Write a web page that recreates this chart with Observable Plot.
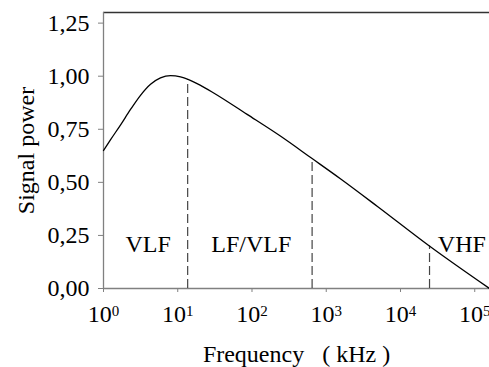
<!DOCTYPE html>
<html><head><meta charset="utf-8">
<script src="https://cdn.jsdelivr.net/npm/d3@7"></script>
<script src="https://cdn.jsdelivr.net/npm/@observablehq/plot@0.6"></script>
<style>
body{margin:0;background:#fff}
#chart svg, #chart svg text{font-family:"Liberation Serif","Times New Roman",serif !important}
</style>
</head><body><div id="chart"></div>
<script>
// Curve samples: frequency (kHz) and signal power
const freqKHz = [1, 1.24, 1.7, 2.3, 3.15, 4.3, 5.85, 8, 10.9, 14, 20, 30.5, 86, 241, 645, 1550, 5000, 24500, 158000];
const power   = [0.65, 0.70, 0.771, 0.842, 0.91, 0.962, 0.992, 1.003, 0.997, 0.984, 0.958, 0.921, 0.82, 0.718, 0.612, 0.517, 0.384, 0.2, 0.0];
// Band boundaries (dashed lines)
const boundaryFreq  = [13.6, 645, 24600];
const boundaryPower = [0.985, 0.612, 0.2];
// Band labels
const bandLabels = ["VLF", "LF/VLF", "VHF"];
const bandLabelFreq = [4, 98, 67000];
const bandLabelPower = [0.17, 0.17, 0.17];
// Axes
const xTicks = [1, 10, 100, 1000, 10000, 100000];
const xTickExp = ["0", "1", "2", "3", "4", "5"];
const yTicks = [0, 0.25, 0.5, 0.75, 1.0, 1.25];
const xDomain = [1, 158000];
const yDomain = [0, 1.3];
const xTitle = "Frequency\u00a0\u00a0\u00a0( kHz )";
const yTitle = "Signal power";

const curve = freqKHz.map((f, i) => ({f, p: power[i]}));
const bounds = boundaryFreq.map((f, i) => ({f, p: boundaryPower[i]}));
const labels = bandLabels.map((t, i) => ({t, f: bandLabelFreq[i], p: bandLabelPower[i]}));

const serif = '"Liberation Serif", "Times New Roman", serif';
const axisColor = "#808080";
const plot = Plot.plot({
  width: 489,
  height: 367,
  marginLeft: 103,
  marginRight: 0,
  marginTop: 12,
  marginBottom: 79,
  style: {fontSize: "24px", fontFamily: serif, color: "#000", background: "#fff", overflow: "visible"},
  x: {type: "log", domain: xDomain},
  y: {domain: yDomain},
  marks: [
    Plot.ruleY([yDomain[1]], {stroke: "#333", strokeWidth: 1.3}),
    Plot.ruleX([xDomain[0]], {stroke: axisColor, strokeWidth: 1.3}),
    Plot.ruleY([yDomain[0]], {stroke: axisColor, strokeWidth: 1.3}),
    Plot.axisX({ticks: xTicks, tickSize: 4, tickPadding: 12, stroke: axisColor, fill: "#000",
      tickFormat: d => "10^" + xTickExp[xTicks.indexOf(d)], label: null, fontSize: 24, fontFamily: serif}),
    Plot.axisY({ticks: yTicks, tickSize: 5, tickPadding: 9, stroke: axisColor, fill: "#000",
      tickFormat: d => d3.format(".2f")(d).replace(".", ","), label: null, fontSize: 24, fontFamily: serif}),
    Plot.ruleX(bounds, {x: "f", y1: 0, y2: "p", stroke: "#444", strokeWidth: 1.2, strokeDasharray: "9,4"}),
    Plot.line(curve, {x: "f", y: "p", curve: "monotone-x", stroke: "#000", strokeWidth: 1.3}),
    Plot.text(labels, {x: "f", y: "p", text: "t", lineAnchor: "bottom", textAnchor: "middle", fontSize: 24, fontFamily: serif, fill: "#000"}),
    Plot.text([xTitle], {frameAnchor: "bottom", dy: 73, lineAnchor: "bottom", textAnchor: "middle", fontSize: 24, fontFamily: serif, fill: "#000"}),
    Plot.text([yTitle], {frameAnchor: "left", rotate: -90, dx: -87, lineAnchor: "top", textAnchor: "middle", fontSize: 24, fontFamily: serif, fill: "#000"})
  ]
});

// Render x tick labels as 10 with a raised exponent
d3.select(plot).selectAll('g[aria-label="x-axis tick label"] text').each(function() {
  const s = this.textContent;
  const exp = s.split("^")[1];
  const t = d3.select(this);
  t.text(null);
  t.append("tspan").text("10");
  t.append("tspan").attr("dy", "-6").attr("font-size", "15px").text(exp);
});

document.getElementById("chart").appendChild(plot);
</script>
</body></html>
